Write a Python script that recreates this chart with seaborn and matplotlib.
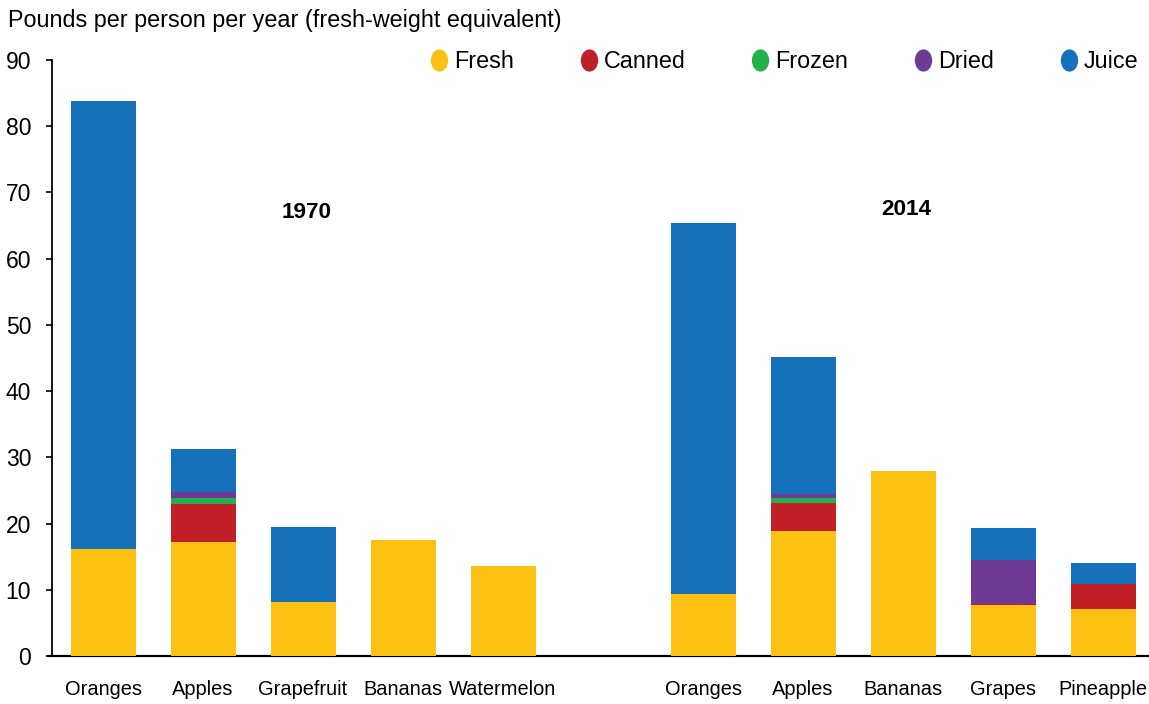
import numpy as np
import pandas as pd
import seaborn as sns
import matplotlib.pyplot as plt
from matplotlib.lines import Line2D
from matplotlib.path import Path

# bar slots (one empty slot separates the two years)
slots = ['1970 Oranges', '1970 Apples', '1970 Grapefruit', '1970 Bananas', '1970 Watermelon',
         'gap',
         '2014 Oranges', '2014 Apples', '2014 Bananas', '2014 Grapes', '2014 Pineapple']
tick_labels = ['Oranges', 'Apples', 'Grapefruit', 'Bananas', 'Watermelon', '',
               'Oranges', 'Apples', 'Bananas', 'Grapes', 'Pineapple']
fruits = [s for s in slots if s != 'gap']

# pounds per person per year, by form
fresh = [16.2, 17.2, 8.15, 17.5, 13.6, 9.4, 18.9, 27.9, 7.7, 7.1]
canned = [0.0, 5.75, 0.0, 0.0, 0.0, 0.0, 4.2, 0.0, 0.15, 3.8]
frozen = [0.0, 0.9, 0.0, 0.0, 0.0, 0.0, 0.8, 0.0, 0.0, 0.0]
dried = [0.0, 0.9, 0.0, 0.0, 0.0, 0.0, 0.6, 0.0, 6.65, 0.0]
juice = [67.6, 6.5, 11.35, 0.0, 0.0, 56.0, 20.7, 0.0, 4.8, 3.1]

forms = ['Fresh', 'Canned', 'Frozen', 'Dried', 'Juice']
colors = ['#fcc112', '#c12026', '#22b14c', '#6f3996', '#1572ba']

df = pd.DataFrame({'fruit': fruits, 'Fresh': fresh, 'Canned': canned,
                   'Frozen': frozen, 'Dried': dried, 'Juice': juice})
# cumulative tops for layered drawing
cum = df[forms].cumsum(axis=1)

plt.rcParams['font.family'] = ['Liberation Sans', 'DejaVu Sans']
fig = plt.figure(figsize=(11.49, 7.04), dpi=100)
ax = fig.add_axes([0.0453, 0.0682, 0.9547, 0.8466])

# draw tallest stack first, then overlay the lower layers
for i in range(len(forms) - 1, -1, -1):
    sns.barplot(x=df['fruit'], y=cum[forms[i]], order=slots, color=colors[i],
                width=0.65, linewidth=0, saturation=1, ax=ax, zorder=2 + (5 - i))

ax.set_xlim(-0.51, 10.46)
ax.set_ylim(0, 90)
ax.set_yticks(np.arange(0, 91, 10))
ax.set_xticks(range(len(slots)))
ax.set_xticklabels(tick_labels)
ax.set_xlabel('')
ax.set_ylabel('')
ax.tick_params(axis='x', length=0, pad=17, labelsize=14.4)
ax.tick_params(axis='y', length=4, width=1.2, pad=11, labelsize=16.5)
for side in ['top', 'right']:
    ax.spines[side].set_visible(False)
ax.spines['left'].set_linewidth(1.3)
ax.spines['bottom'].set_linewidth(1.6)
ax.spines['bottom'].set_bounds(-0.55, 10.46)

ax.text(2.04, 66.9, '1970', ha='center', va='center', fontsize=16.2, fontweight='bold')
ax.text(8.03, 67.35, '2014', ha='center', va='center', fontsize=16.2, fontweight='bold')

fig.text(0.007, 0.971, 'Pounds per person per year (fresh-weight equivalent)',
         ha='left', va='center', fontsize=16.8)

# slightly narrow oval markers, as in the reference legend
circ = Path.unit_circle()
oval = Path(circ.vertices * np.array([0.78, 1.0]), circ.codes)
handles = [Line2D([0], [0], marker=oval, linestyle='', markersize=16,
                  markerfacecolor=c, markeredgewidth=0) for c in colors]
fig.legend(handles, forms, ncol=5, frameon=False, loc='center right',
           bbox_to_anchor=(0.999, 0.913), fontsize=16.8, handlelength=0.7,
           handletextpad=0.3, columnspacing=2.85, borderaxespad=0)

fig.savefig('out.png', dpi=100)
